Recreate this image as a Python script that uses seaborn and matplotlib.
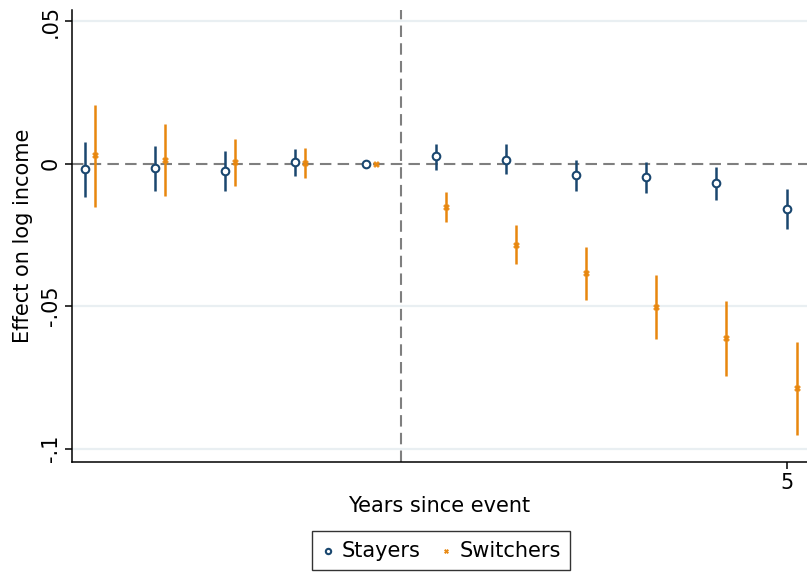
import numpy as np
import pandas as pd
import matplotlib
matplotlib.use("Agg")
import matplotlib.pyplot as plt
import seaborn as sns

# Event-study estimates (relative to year -1)
years = [-5, -4, -3, -2, -1, 0, 1, 2, 3, 4, 5]

stayers_coef = [-0.0020, -0.0015, -0.0026, 0.0006, 0.0, 0.0025, 0.0014, -0.0040, -0.0048, -0.0069, -0.0158]
stayers_lo = [-0.0116, -0.0095, -0.0096, -0.0042, 0.0, -0.0023, -0.0037, -0.0096, -0.0103, -0.0127, -0.0230]
stayers_hi = [0.0075, 0.0063, 0.0045, 0.0053, 0.0, 0.0070, 0.0068, 0.0014, 0.0006, -0.0012, -0.0088]

switchers_coef = [0.0029, 0.0012, 0.0004, 0.0002, 0.0, -0.0151, -0.0284, -0.0385, -0.0502, -0.0613, -0.0788]
switchers_lo = [-0.0151, -0.0114, -0.0079, -0.0049, 0.0, -0.0204, -0.0353, -0.0477, -0.0615, -0.0745, -0.0952]
switchers_hi = [0.0207, 0.0138, 0.0086, 0.0054, 0.0, -0.0099, -0.0214, -0.0292, -0.0391, -0.0481, -0.0627]

groups = ["Stayers", "Switchers"]
ytick_vals = [0.05, 0.0, -0.05, -0.1]
ytick_labels = [".05", "0", "-.05", "-.1"]
xtick_vals = [5]
xtick_labels = ["5"]

NAVY = "#1a476f"
ORANGE = "#e8870e"
offsets = {"Stayers": 0.0, "Switchers": 0.1425}

df = pd.concat([
    pd.DataFrame({"year": years, "coef": stayers_coef, "lo": stayers_lo,
                  "hi": stayers_hi, "group": groups[0]}),
    pd.DataFrame({"year": years, "coef": switchers_coef, "lo": switchers_lo,
                  "hi": switchers_hi, "group": groups[1]}),
], ignore_index=True)
df["xpos"] = df["year"] + df["group"].map(offsets)

sns.set_style("white")
plt.rcParams["font.family"] = ["DejaVu Sans"]
for key in ["text.color", "axes.labelcolor", "xtick.color", "ytick.color"]:
    plt.rcParams[key] = "black"

W, H = 807, 574
fig = plt.figure(figsize=(W / 100, H / 100), dpi=100)
left, right, top, bottom = 72, 807, 10, 462
ax = fig.add_axes([left / W, 1 - bottom / H, (right - left) / W, (bottom - top) / H])

# light horizontal grid
for v in ytick_vals:
    if v != 0:
        ax.axhline(v, color="#e9eff2", lw=1.6, zorder=0)

# reference lines
ax.axhline(0, color="#7f7f7f", lw=1.5, ls=(0, (5.5, 3)), zorder=1)
ax.axvline(-0.5, color="#7f7f7f", lw=1.5, ls=(0, (5.5, 3)), zorder=1)

# confidence intervals
colors = {"Stayers": NAVY, "Switchers": ORANGE}
for g in groups:
    sub = df[(df["group"] == g) & (df["lo"] != df["hi"])]
    ax.vlines(sub["xpos"], sub["lo"], sub["hi"], color=colors[g], lw=1.8, zorder=2)

# point estimates
sub_s = df[df["group"] == "Stayers"]
sub_w = df[df["group"] == "Switchers"]
sns.scatterplot(data=sub_s, x="xpos", y="coef", ax=ax, marker="o", s=30,
                facecolor="white", edgecolor=NAVY, linewidth=1.5, zorder=3,
                label="Stayers")
sns.scatterplot(data=sub_w, x="xpos", y="coef", ax=ax, marker="X", s=18,
                color=ORANGE, edgecolor=ORANGE, linewidth=0.4, zorder=3,
                label="Switchers")

ax.set_xlim(-5.185, 5.29)
ax.set_ylim(-0.1047, 0.0539)

ax.set_yticks(ytick_vals)
ax.set_yticklabels(ytick_labels, rotation=90, va="center", fontsize=15)
ax.set_xticks(xtick_vals)
ax.set_xticklabels(xtick_labels, fontsize=15)
ax.tick_params(axis="both", direction="out", length=5, width=1.1, color="black",
               left=True, bottom=True, pad=3)

for s in ["top", "right"]:
    ax.spines[s].set_visible(False)
for s in ["left", "bottom"]:
    ax.spines[s].set_color("black")
    ax.spines[s].set_linewidth(1.1)

ax.set_xlabel("Years since event", fontsize=15, labelpad=2)
ax.set_ylabel("Effect on log income", fontsize=15, labelpad=6)

handles, labels = ax.get_legend_handles_labels()
if ax.legend_:
    ax.legend_.remove()
leg = fig.legend(handles, labels, loc="lower center", ncol=2,
                 bbox_to_anchor=(441 / W, 4 / H), borderaxespad=0,
                 frameon=True, fontsize=15, fancybox=False, edgecolor="black",
                 handletextpad=0.3, columnspacing=0.85, borderpad=0.45,
                 markerscale=0.7, handlelength=0.7)
leg.get_frame().set_linewidth(1.0)

fig.savefig("out.png", dpi=100)
